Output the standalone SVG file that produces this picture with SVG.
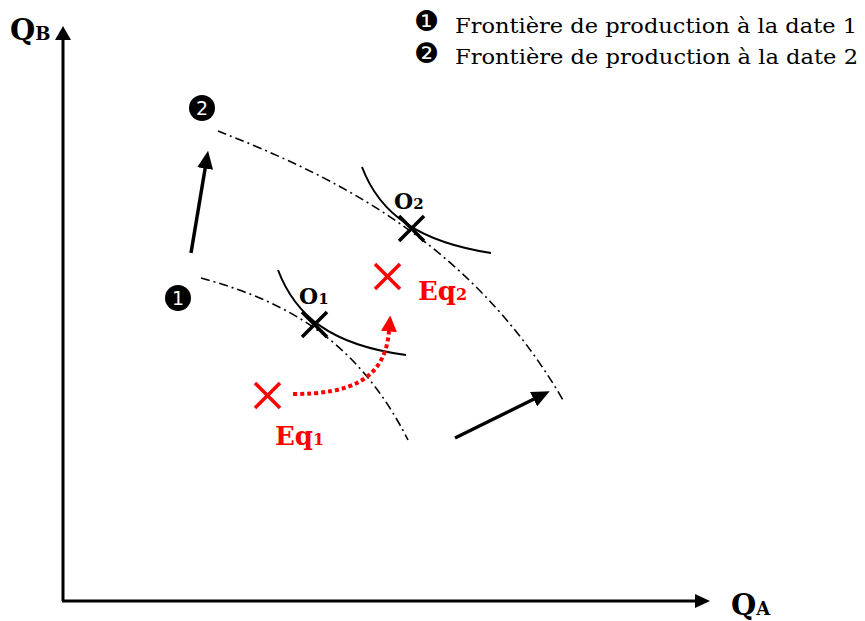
<svg xmlns="http://www.w3.org/2000/svg" width="865" height="621" viewBox="0 0 865 621">
<style>
.axis{stroke:#000;stroke-width:3;fill:none}
.front{stroke:#000;stroke-width:1.6;fill:none;stroke-dasharray:9 4 2 4}
.indiff{stroke:#000;stroke-width:2;fill:none}
.arr{stroke:#000;stroke-width:3.5;fill:none}
.xb{stroke:#000;stroke-width:3.5}
.xr{stroke:#ff0000;stroke-width:3.5}
.lab{font-family:"DejaVu Serif",serif;font-weight:bold;fill:#000}
.red{fill:#ff0000}
.leg{font-family:"DejaVu Serif",serif;font-size:21px;fill:#000}
.dig{font-family:"DejaVu Sans",sans-serif;fill:#000}
.numw{font-family:"DejaVu Sans",sans-serif;font-size:19px;fill:#fff;text-anchor:middle}
</style>
<defs>
<marker id="ahk" markerUnits="userSpaceOnUse" markerWidth="18" markerHeight="16" viewBox="0 0 18 16" refX="0.5" refY="8" orient="auto"><path d="M0,0 L18,8 L0,16 z" fill="#000"/></marker>
<marker id="ahr" markerUnits="userSpaceOnUse" markerWidth="16" markerHeight="16" viewBox="0 0 16 16" refX="0.5" refY="8" orient="auto"><path d="M0,0 L16,8 L0,16 z" fill="#ff0000"/></marker>
</defs>

<g id="axes">
<line class="axis" x1="63" y1="601" x2="63" y2="40"/>
<polygon points="55,40 71,40 63,26" fill="#000"/>
<line class="axis" x1="62" y1="601" x2="696" y2="601"/>
<polygon points="695,594 695,608 710,601" fill="#000"/>
<text class="lab" x="10" y="40" font-size="29">Q<tspan font-size="18">B</tspan></text>
<text class="lab" x="731" y="615" font-size="29">Q<tspan font-size="18">A</tspan></text>
</g>

<g id="legend">
<text class="dig" x="414" y="31" font-size="28">❶</text>
<text class="leg" x="455" y="33" textLength="402" lengthAdjust="spacingAndGlyphs">Frontière de production à la date 1</text>
<text class="dig" x="414" y="63" font-size="28">❷</text>
<text class="leg" x="455" y="64" textLength="403" lengthAdjust="spacingAndGlyphs">Frontière de production à la date 2</text>
</g>

<g id="frontier1">
<path class="front" d="M201,278 C280,300 355,335 408,440"/>
<circle cx="178" cy="298" r="13" fill="#000"/>
<text class="numw" x="178" y="305">1</text>
</g>

<g id="frontier2">
<path class="front" d="M218,131 C330,175 470,240 563,400"/>
<circle cx="202" cy="108" r="13" fill="#000"/>
<text class="numw" x="202" y="115">2</text>
</g>

<g id="O1">
<path class="indiff" d="M278,270 C295,315 330,345 406,355"/>
<line class="xb" x1="302" y1="312" x2="327" y2="337"/>
<line class="xb" x1="302" y1="337" x2="327" y2="312"/>
<text class="lab" x="299" y="304" font-size="22">O<tspan font-size="15">1</tspan></text>
</g>

<g id="O2">
<path class="indiff" d="M362,167 C380,215 420,242 491,253"/>
<line class="xb" x1="399" y1="216" x2="424" y2="241"/>
<line class="xb" x1="399" y1="241" x2="424" y2="216"/>
<text class="lab" x="394" y="209" font-size="22">O<tspan font-size="15">2</tspan></text>
</g>

<g id="Eq1">
<line class="xr" x1="255" y1="383" x2="280" y2="408"/>
<line class="xr" x1="255" y1="408" x2="280" y2="383"/>
<text class="lab red" x="275" y="445" font-size="26">Eq<tspan font-size="16">1</tspan></text>
</g>

<g id="Eq2">
<line class="xr" x1="375" y1="264" x2="400" y2="289"/>
<line class="xr" x1="375" y1="289" x2="400" y2="264"/>
<text class="lab red" x="418" y="300" font-size="26">Eq<tspan font-size="16">2</tspan></text>
</g>

<g id="connectors">
<path class="arr" d="M191,253 L205.2,168" marker-end="url(#ahk)"/>
<path class="arr" d="M455,438 L534,399" marker-end="url(#ahk)"/>
<path d="M293,394 C350,394 385,380 389,331" fill="none" stroke="#ff0000" stroke-width="4" stroke-dasharray="4 3" marker-end="url(#ahr)"/>
</g>
</svg>
